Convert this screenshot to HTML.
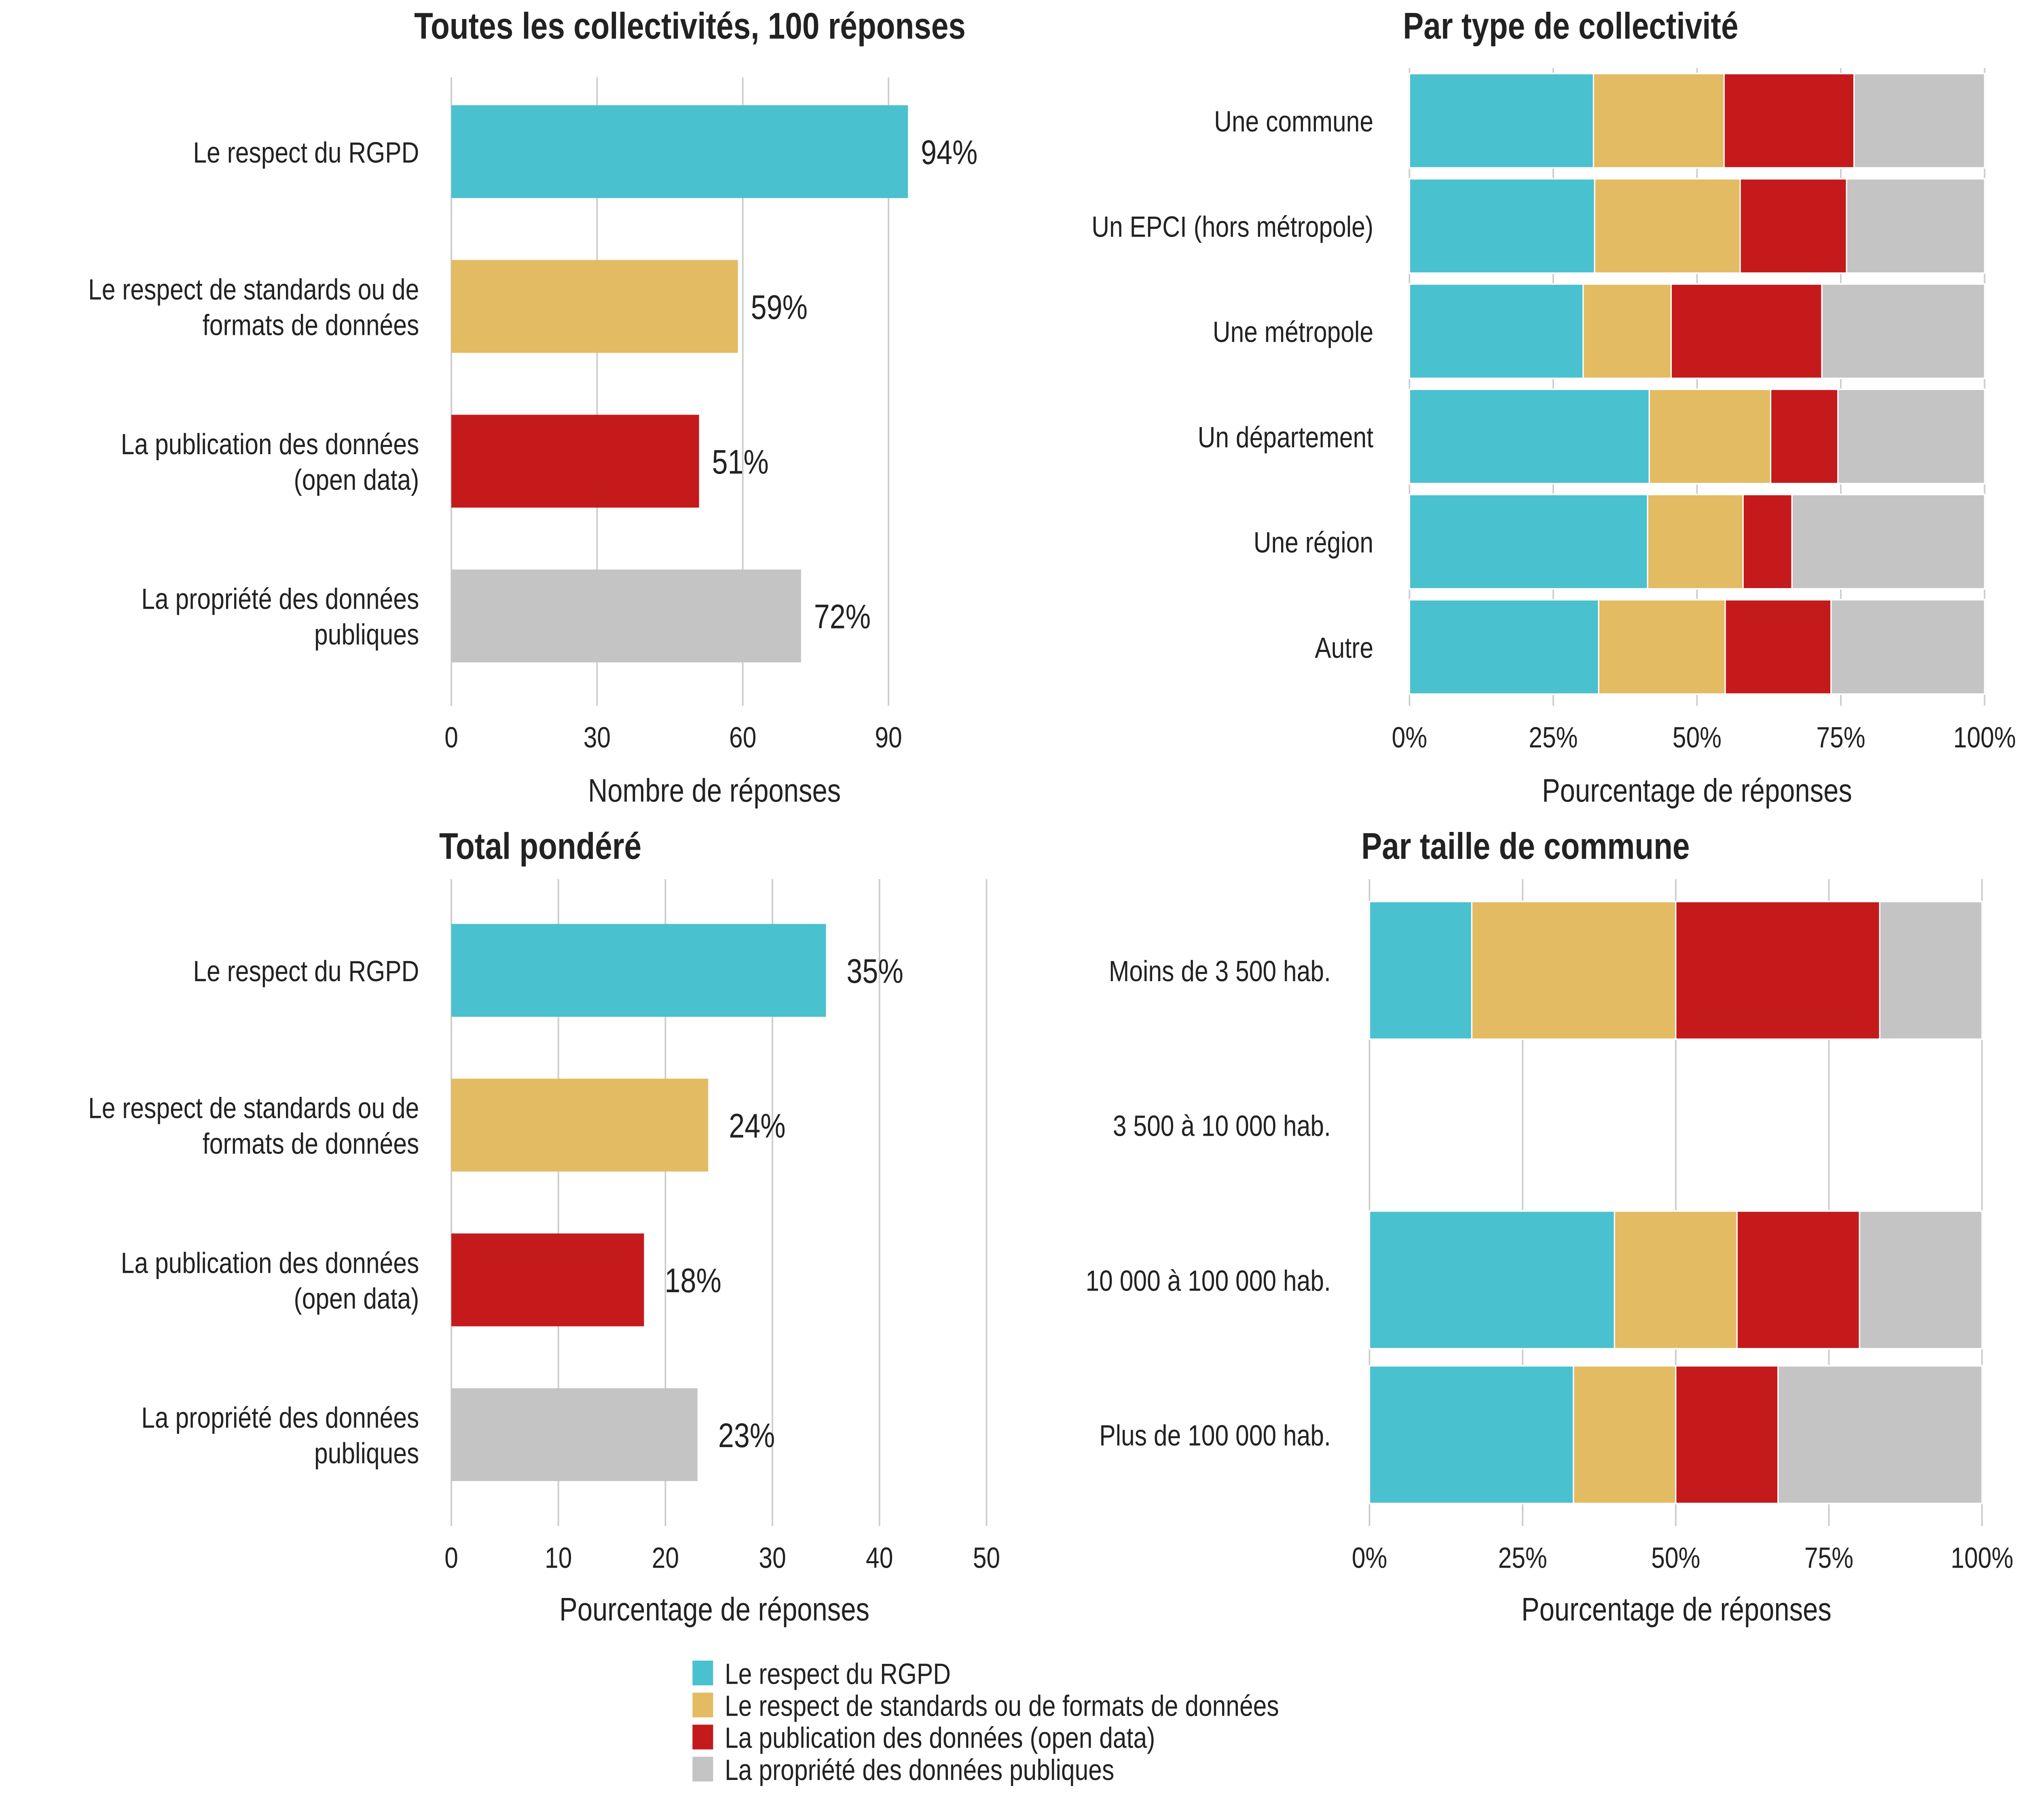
<!DOCTYPE html>
<html><head><meta charset="utf-8"><style>
html,body{margin:0;padding:0;background:#fff;width:100vw;height:100vh;overflow:hidden;}
svg{display:block;position:absolute;left:0;top:0;width:100vw;height:100vh;}
text{font-family:"Liberation Sans",sans-serif;fill:#222;}
</style></head><body>
<svg id="chart" viewBox="0 0 1568 1176" preserveAspectRatio="none" xmlns="http://www.w3.org/2000/svg"><g id="root"></g></svg>
<script>
// ---- data ----
const seriesNames = ["Le respect du RGPD","Le respect de standards ou de formats de données","La publication des données (open data)","La propriété des données publiques"];
const colors = ["#4AC1CE","#E3BB62","#C41A1C","#C4C4C4"];
const catLabels = [["Le respect du RGPD"],["Le respect de standards ou de","formats de données"],["La publication des données","(open data)"],["La propriété des données","publiques"]];
const countValues = [94, 59, 51, 72];
const countTicks = [0, 30, 60, 90];
const weightedValues = [35, 24, 18, 23];
const weightedTicks = [0, 10, 20, 30, 40, 50];
const typeCats = ["Une commune","Un EPCI (hors métropole)","Une métropole","Un département","Une région","Autre"];
const typeRgpd = [32.0, 32.2, 30.2, 41.7, 41.4, 32.9];
const typeStd = [22.7, 25.3, 15.3, 21.1, 16.6, 22.0];
const typeOpen = [22.6, 18.5, 26.2, 11.7, 8.5, 18.4];
const typeProp = [22.7, 24.0, 28.3, 25.5, 33.5, 26.7];
const sizeCats = ["Moins de 3 500 hab.","3 500 à 10 000 hab.","10 000 à 100 000 hab.","Plus de 100 000 hab."];
const sizeRgpd = [16.7, 0, 40, 33.3];
const sizeStd = [33.3, 0, 20, 16.7];
const sizeOpen = [33.3, 0, 20, 16.7];
const sizeProp = [16.7, 0, 20, 33.3];
const pctTicks = [0, 25, 50, 75, 100];

const svg = document.getElementById('root');
const NS = "http://www.w3.org/2000/svg";
function mk(tag, attrs, parent){const e=document.createElementNS(NS,tag);for(const k in attrs)e.setAttribute(k,attrs[k]);(parent||svg).appendChild(e);return e;}
function txt(str, x, y, opts, parent){const t=mk('text',Object.assign({x:x,y:y,'font-size':19},opts||{}),parent);t.textContent=str;return t;}

function simplePanel(cfg){
  const g=mk('g',{});
  
  
  const sx=v=>cfg.x0+(v-cfg.d0)/(cfg.d1-cfg.d0)*(cfg.x1-cfg.x0);
  cfg.ticks.forEach(t=>{
    const l=mk('line',{x1:sx(t),x2:sx(t),y1:cfg.gy0,y2:cfg.gy1,stroke:'#cccccc','stroke-width':1.2},g);
    
    
    const tl=txt(cfg.tickFmt(t),sx(t),cfg.tickY,{'text-anchor':'middle','font-size':19},g);
    
    
  });
  cfg.values.forEach((v,i)=>{
    const cy=cfg.centers[i];
    const r=mk('rect',{x:sx(0),y:cy-cfg.bh/2,width:sx(v)-sx(0),height:cfg.bh,fill:colors[i]},g);
    
    
    const vl=txt(v+'%',sx(v)+cfg.valOff,cy+8,{'font-size':22,'font-family':'"DejaVu Sans",sans-serif'},g);
    
    
    const lines=catLabels[i];
    lines.forEach((s,j)=>{
      const cl=txt(s,325,cy+7+(j-(lines.length-1)/2)*23,{'text-anchor':'end'},g);
      
      
    });
  });
  const tt=txt(cfg.title,cfg.titleX,cfg.titleY,{'text-anchor':'middle','font-size':24,'font-weight':'bold'},g);
  
  
  const at=txt(cfg.axisTitle,cfg.axisX,cfg.axisY,{'text-anchor':'middle','font-size':21},g);
  
  
}

function stackPanel(cfg){
  const g=mk('g',{});
  
  
  const sx=v=>cfg.x0+v/100*(cfg.x1-cfg.x0);
  pctTicks.forEach(t=>{
    const l=mk('line',{x1:sx(t),x2:sx(t),y1:cfg.gy0,y2:cfg.gy1,stroke:'#cccccc','stroke-width':1.2},g);
    
    
    const tl=txt(t+'%',sx(t),cfg.tickY,{'text-anchor':'middle','font-size':19},g);
    
    
  });
  cfg.cats.forEach((c,i)=>{
    const cy=cfg.centers[i];
    let acc=0;
    cfg.series.forEach((arr,s)=>{
      const v=arr[i];
      if(v>0){
        const r=mk('rect',{x:sx(acc),y:cy-cfg.bh/2,width:sx(acc+v)-sx(acc),height:cfg.bh,fill:colors[s],stroke:'#fff','stroke-width':1},g);
        
        
      }
      acc+=v;
    });
    const cl=txt(c,cfg.labelX,cy+7,{'text-anchor':'end'},g);
    
    
  });
  const tt=txt(cfg.title,cfg.titleX,cfg.titleY,{'text-anchor':'middle','font-size':24,'font-weight':'bold'},g);
  
  
  const at=txt('Pourcentage de réponses',cfg.axisX,cfg.axisY,{'text-anchor':'middle','font-size':21},g);
  
  
}

simplePanel({name:'panel-all-collectivities',x0:350,x1:689,d0:0,d1:90,ticks:countTicks,tickFmt:t=>String(t),values:countValues,
  centers:[98,198,298,398],bh:60,gy0:50,gy1:456,tickY:483,valOff:10,title:'Toutes les collectivités, 100 réponses',titleX:535,titleY:25,
  axisTitle:'Nombre de réponses',axisX:554,axisY:518});
simplePanel({name:'panel-weighted-total',x0:350,x1:765,d0:0,d1:50,ticks:weightedTicks,tickFmt:t=>String(t),values:weightedValues,
  centers:[627,727,827,927],bh:60,gy0:568,gy1:986,tickY:1013,valOff:16,title:'Total pondéré',titleX:419,titleY:555,
  axisTitle:'Pourcentage de réponses',axisX:554,axisY:1047});
stackPanel({name:'panel-by-type',x0:1093,x1:1539,cats:typeCats,series:[typeRgpd,typeStd,typeOpen,typeProp],
  centers:[78,146,214,282,350,418],bh:61,labelX:1065,gy0:44,gy1:456,tickY:483,title:'Par type de collectivité',titleX:1218,titleY:25,axisX:1316,axisY:518});
stackPanel({name:'panel-by-size',x0:1062,x1:1537,cats:sizeCats,series:[sizeRgpd,sizeStd,sizeOpen,sizeProp],
  centers:[627,727,827,927],bh:89,labelX:1032,gy0:568,gy1:986,tickY:1013,title:'Par taille de commune',titleX:1183,titleY:555,axisX:1300,axisY:1047});

// legend
const lg=mk('g',{});


seriesNames.forEach((s,i)=>{
  const y=1073+i*20.7;
  const r=mk('rect',{x:537,y:y,width:16,height:16,fill:colors[i]},lg);
  
  
  const t=txt(s,562,y+15,{'font-size':19},lg);
  
  
});
</script>
</body></html>
